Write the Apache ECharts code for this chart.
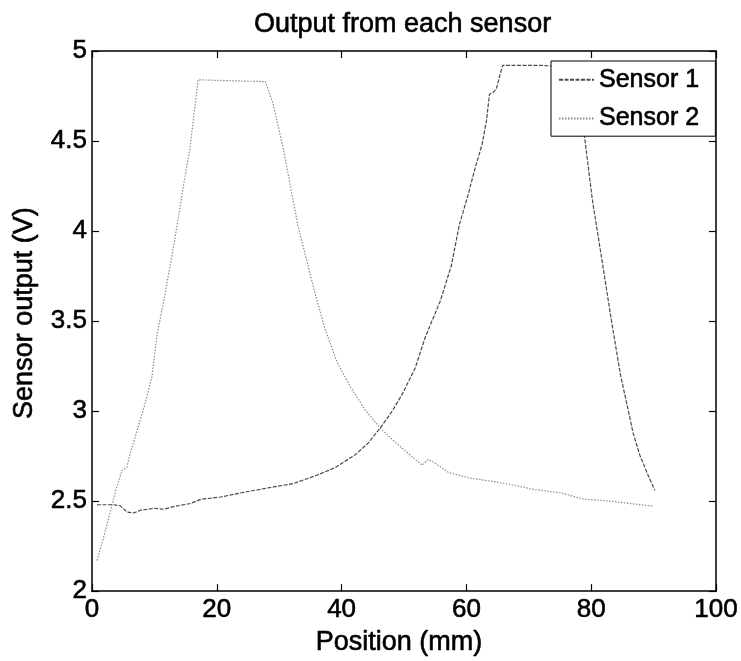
<!DOCTYPE html>
<html>
<head>
<meta charset="utf-8">
<title>Output from each sensor</title>
<script src="https://cdn.jsdelivr.net/npm/echarts@6/dist/echarts.min.js"></script>
<style>
  html, body { margin: 0; padding: 0; background: #fff; }
  #chart { width: 741px; height: 661px; }
</style>
</head>
<body>
<div id="chart"></div>
<script>
// position in mm / output in V
const sensor1X = [0.8, 3.5, 4.5, 5.6, 6.7, 7.8, 9.9, 11.5, 13.1, 15.8, 17.4, 20.6, 24.3, 28.1, 32.3, 36.1, 39.0, 42.2, 44.3, 46.2, 48.1, 49.7, 51.8, 53.4, 55.8, 57.6, 58.9, 60.1, 61.4, 62.5, 63.2, 63.7, 64.3, 64.8, 65.4, 65.8, 72.0, 77.6, 78.8, 80.2, 81.9, 83.3, 84.7, 85.9, 86.7, 87.8, 89.1, 90.2]
const sensor1Y = [2.48, 2.48, 2.475, 2.44, 2.435, 2.45, 2.46, 2.455, 2.47, 2.487, 2.51, 2.523, 2.549, 2.573, 2.598, 2.645, 2.687, 2.758, 2.824, 2.907, 3.0, 3.093, 3.24, 3.41, 3.61, 3.81, 4.04, 4.18, 4.35, 4.48, 4.61, 4.76, 4.77, 4.79, 4.87, 4.92, 4.92, 4.91, 4.56, 4.17, 3.80, 3.49, 3.20, 3.01, 2.88, 2.755, 2.645, 2.56]

const sensor2X = [0.8, 1.7, 3.0, 3.8, 4.8, 5.6, 6.1, 7.2, 8.5, 9.6, 10.4, 11.7, 13.2, 14.7, 15.7, 17.0, 22.0, 27.8, 29.0, 30.7, 33.0, 35.7, 37.3, 39.3, 41.5, 43.7, 46.1, 48.5, 51.2, 52.9, 53.8, 54.6, 57.1, 60.3, 64.1, 67.8, 70.5, 75.4, 78.6, 83.4, 86.1, 89.9]
const sensor2Y = [2.17, 2.28, 2.45, 2.56, 2.67, 2.69, 2.76, 2.89, 3.04, 3.19, 3.42, 3.65, 3.94, 4.26, 4.46, 4.84, 4.835, 4.83, 4.71, 4.45, 4.03, 3.66, 3.46, 3.27, 3.13, 3.01, 2.91, 2.83, 2.75, 2.70, 2.73, 2.72, 2.66, 2.63, 2.61, 2.588, 2.567, 2.544, 2.512, 2.499, 2.487, 2.473]

const seriesNames = ['Sensor 1', 'Sensor 2']
const xTicks = { min: 0, max: 100, interval: 20 }
const yTicks = { min: 2, max: 5, interval: 0.5 }

function pairs(xs, ys) {
  return xs.map((x, i) => [x, ys[i]])
}

const font = '"Liberation Sans", Arial, Helvetica, sans-serif'
// the scan makes all text look heavier than plain regular
const ink = { color: '#000', fontFamily: font, textBorderColor: '#000', textBorderWidth: 0.6 }

function frameAxis(pos, ticks, showLabel) {
  return {
    type: 'value',
    position: pos,
    min: ticks.min,
    max: ticks.max,
    interval: ticks.interval,
    axisLine: { show: true, onZero: false, lineStyle: { color: '#000', width: 1.5 } },
    axisTick: { show: true, inside: true, length: 7, lineStyle: { color: '#000', width: 1.2 } },
    splitLine: { show: false },
    axisLabel: Object.assign({ show: showLabel, fontSize: 26, margin: 6 }, ink)
  }
}

const chart = echarts.init(document.getElementById('chart'))

const bottomX = frameAxis('bottom', xTicks, true)
bottomX.name = 'Position (mm)'
bottomX.nameLocation = 'middle'
bottomX.nameGap = 33
bottomX.nameTextStyle = Object.assign({ fontSize: 27, padding: [0, 10, 0, 0] }, ink)

const leftY = frameAxis('left', yTicks, true)
leftY.axisLabel.margin = 5
leftY.axisLabel.formatter = v => String(v)
leftY.name = 'Sensor output (V)'
leftY.nameLocation = 'middle'
leftY.nameGap = 54
leftY.nameTextStyle = Object.assign({ fontSize: 27, padding: [0, 0, 0, 16] }, ink)

const option = {
  backgroundColor: '#fff',
  animation: false,
  title: {
    text: 'Output from each sensor',
    left: 254,
    top: 11,
    padding: 0,
    textStyle: Object.assign({ fontSize: 27, fontWeight: 'normal' }, ink)
  },
  grid: { left: 92, right: 24, top: 51, bottom: 67 },
  xAxis: [bottomX, frameAxis('top', xTicks, false)],
  yAxis: [leftY, frameAxis('right', yTicks, false)],
  legend: {
    data: seriesNames,
    orient: 'vertical',
    left: 551,
    top: 61,
    padding: [6, 16, 5, 7],
    itemWidth: 35,
    itemHeight: 14,
    itemGap: 13,
    itemStyle: { opacity: 0 },
    backgroundColor: '#fff',
    borderColor: '#000',
    borderWidth: 1,
    textStyle: Object.assign({ fontSize: 25, lineHeight: 24 }, ink)
  },
  series: [
    {
      name: seriesNames[0],
      type: 'line',
      symbol: 'none',
      data: pairs(sensor1X, sensor1Y),
      lineStyle: { color: '#4a4a4a', width: 1.2, type: [4, 1.5] },
      itemStyle: { color: '#4a4a4a' },
      z: 3
    },
    {
      name: seriesNames[1],
      type: 'line',
      symbol: 'none',
      data: pairs(sensor2X, sensor2Y),
      lineStyle: { color: '#8c8c8c', width: 1.2, type: [1.5, 1.5] },
      itemStyle: { color: '#8c8c8c' },
      z: 2
    }
  ]
}

chart.setOption(option)
</script>
</body>
</html>
